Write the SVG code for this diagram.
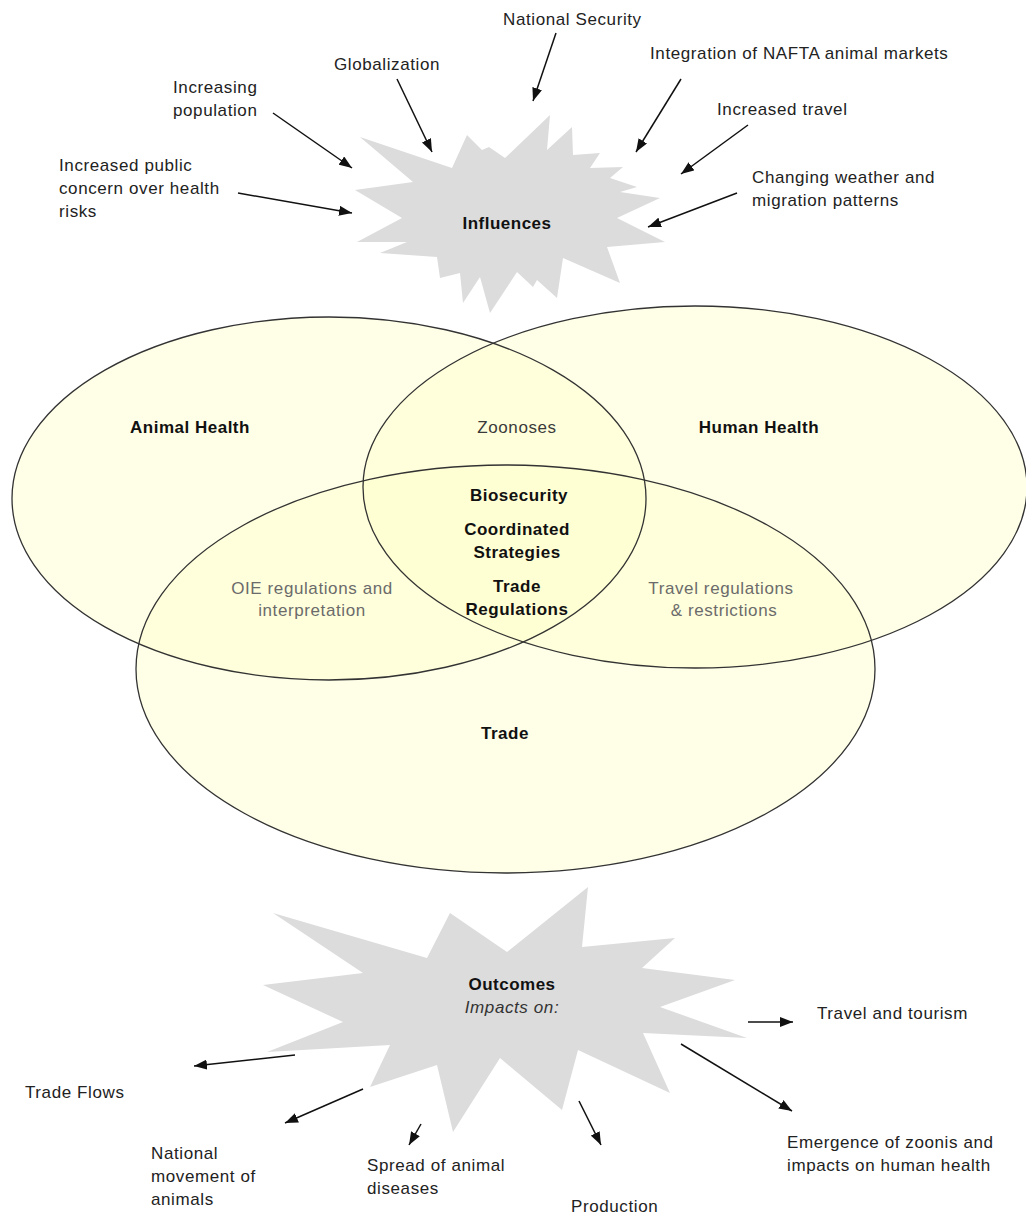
<svg xmlns="http://www.w3.org/2000/svg" width="1026" height="1217" viewBox="0 0 1026 1217">
<style>
.t{font-family:"Liberation Sans",Arial,sans-serif;font-size:17px;letter-spacing:0.6px;fill:#222}
.b{font-family:"Liberation Sans",Arial,sans-serif;font-size:17px;font-weight:bold;letter-spacing:0.5px;fill:#111;text-anchor:middle}
.g{fill:#6b6b6b;text-anchor:middle}
.z{fill:#3a3a3a;text-anchor:middle}
.burst{fill:#dcdcdc}
.ell{fill:#ffffcc;fill-opacity:0.45;stroke:none}
.out{fill:none;stroke:#333;stroke-width:1.3}
.arr{stroke:#111;stroke-width:1.5;fill:none;marker-end:url(#ah)}
</style>
<defs>
<marker id="ah" markerUnits="userSpaceOnUse" markerWidth="13" markerHeight="10" viewBox="0 0 13 10" refX="13" refY="5" orient="auto">
<path d="M0,0 L13,5 L0,10 z" fill="#111"/>
</marker>
</defs>
<rect width="1026" height="1217" fill="#fff"/>

<g id="influences">
<polygon class="burst" points="360,137 452,168 467,135 482,150 489,147 505,158 550,115 547,150 572,127 573,155 600,153 590,168 623,167 610,178 637,187 620,192 660,198 617,218 665,242 607,247 620,283 563,258 557,298 537,280 533,287 517,272 490,313 480,277 463,303 460,273 440,278 437,257 380,253 407,242 357,242 402,218 355,190 413,182"/>
<text class="b" x="507" y="229">Influences</text>
</g>

<g id="venn">
<g id="venn-fills">
<ellipse id="animal-health" class="ell" cx="329" cy="498.5" rx="317" ry="181.5"/>
<ellipse id="human-health" class="ell" cx="695" cy="487" rx="332" ry="181"/>
<ellipse id="trade" class="ell" cx="505.5" cy="669" rx="369.5" ry="204"/>
</g>
<g id="venn-outlines">
<ellipse class="out" cx="329" cy="498.5" rx="317" ry="181.5"/>
<ellipse class="out" cx="695" cy="487" rx="332" ry="181"/>
<ellipse class="out" cx="505.5" cy="669" rx="369.5" ry="204"/>
</g>
</g>

<g id="venn-labels">
<text class="b" x="190" y="433">Animal Health</text>
<text class="t z" x="517" y="433">Zoonoses</text>
<text class="b" x="759" y="433">Human Health</text>
<text class="b" x="519" y="501">Biosecurity</text>
<text class="b" x="517" y="535">Coordinated</text>
<text class="b" x="517" y="558">Strategies</text>
<text class="b" x="517" y="592">Trade</text>
<text class="b" x="517" y="615">Regulations</text>
<text class="t g" x="312" y="594">OIE regulations and</text>
<text class="t g" x="312" y="616">interpretation</text>
<text class="t g" x="721" y="594">Travel regulations</text>
<text class="t g" x="724" y="616">&amp; restrictions</text>
<text class="b" x="505" y="739">Trade</text>
</g>

<g id="outcomes">
<polygon class="burst" points="273,913 427,958 450,913 507,952 588,887 582,947 675,938 642,968 735,980 660,1007 747,1038 643,1033 670,1093 578,1050 562,1110 500,1058 453,1132 437,1065 370,1087 390,1045 267,1052 343,1022 263,985 363,973"/>
<text class="b" x="512" y="990">Outcomes</text>
<text class="t" x="512" y="1013" style="font-style:italic;text-anchor:middle;fill:#333">Impacts on:</text>
</g>

<g id="influence-labels">
<text class="t" x="503" y="25">National Security</text>
<text class="t" x="334" y="70">Globalization</text>
<text class="t" x="650" y="59">Integration of NAFTA animal markets</text>
<text class="t" x="173" y="93">Increasing</text>
<text class="t" x="173" y="116">population</text>
<text class="t" x="717" y="115">Increased travel</text>
<text class="t" x="59" y="171">Increased public</text>
<text class="t" x="59" y="194">concern over health</text>
<text class="t" x="59" y="217">risks</text>
<text class="t" x="752" y="183">Changing weather and</text>
<text class="t" x="752" y="206">migration patterns</text>
</g>

<g id="outcome-labels">
<text class="t" x="817" y="1019">Travel and tourism</text>
<text class="t" x="25" y="1098">Trade Flows</text>
<text class="t" x="787" y="1148">Emergence of zoonis and</text>
<text class="t" x="787" y="1171">impacts on human health</text>
<text class="t" x="151" y="1159">National</text>
<text class="t" x="151" y="1182">movement of</text>
<text class="t" x="151" y="1205">animals</text>
<text class="t" x="367" y="1171">Spread of animal</text>
<text class="t" x="367" y="1194">diseases</text>
<text class="t" x="571" y="1212">Production</text>
</g>

<g id="connectors">
<line class="arr" x1="556" y1="33" x2="533" y2="101"/>
<line class="arr" x1="397" y1="79" x2="432" y2="152"/>
<line class="arr" x1="681" y1="79" x2="636" y2="152"/>
<line class="arr" x1="273" y1="113" x2="352" y2="168"/>
<line class="arr" x1="748" y1="125" x2="681" y2="174"/>
<line class="arr" x1="238" y1="193" x2="352" y2="213"/>
<line class="arr" x1="737" y1="193" x2="648" y2="227"/>
<line class="arr" x1="748" y1="1022" x2="793" y2="1022"/>
<line class="arr" x1="295" y1="1055" x2="194" y2="1066"/>
<line class="arr" x1="681" y1="1044" x2="792" y2="1111"/>
<line class="arr" x1="363" y1="1089" x2="285" y2="1123"/>
<line class="arr" x1="421" y1="1124" x2="409" y2="1145"/>
<line class="arr" x1="579" y1="1101" x2="601" y2="1145"/>
</g>
</svg>
